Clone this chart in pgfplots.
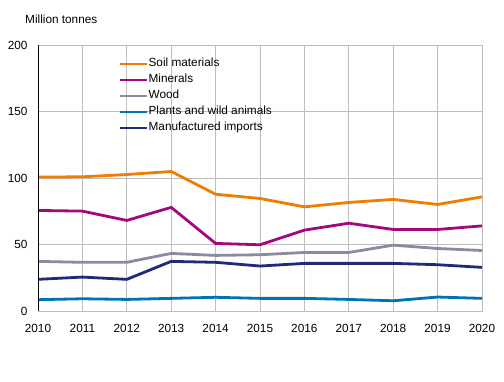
\documentclass[border=0pt]{standalone}
\usepackage{pgfplots}
\pgfplotsset{compat=1.18}
\usepackage{fontspec}
\setmainfont{Liberation Sans}
\definecolor{cSoil}{HTML}{F07D00}
\definecolor{cMin}{HTML}{A3087F}
\definecolor{cWood}{HTML}{8C8AA0}
\definecolor{cPlant}{HTML}{0073B0}
\definecolor{cMan}{HTML}{1F2A78}
\definecolor{cGrid}{HTML}{BEBEBE}
\begin{document}
\begin{tikzpicture}
\useasboundingbox (0,0) rectangle (504bp,382bp);
\begin{axis}[
  scale only axis,
  width=444bp, height=266bp,
  at={(38bp,71bp)}, anchor=south west,
  xmin=2010, xmax=2020, ymin=0, ymax=200,
  xtick={2010,...,2020}, ytick={0,50,100,150,200},
  xticklabel style={/pgf/number format/1000 sep={}},
  /pgf/number format/assume math mode=true,
  tick style={draw=none},
  grid=major,
  major grid style={draw=cGrid, line width=0.9bp},
  axis line style={draw=cGrid, line width=0.9bp},
  font=\fontsize{11.8bp}{14bp}\selectfont,
  yticklabel style={xshift=-7bp},
  xticklabel style={yshift=-10bp},
  legend style={at={(0.182,0.952)}, anchor=north west, draw=none, fill=none,
    font=\fontsize{11.8bp}{14bp}\selectfont, row sep=4bp, inner sep=0pt,
    nodes={text height=9bp, text depth=3bp, inner sep=0pt, outer sep=0pt}},
  legend cell align=left,
  legend image code/.code={\draw[#1, line width=2.6bp] (0bp,0bp) -- (27bp,0bp);},
  every axis plot/.append style={line width=2.8bp, mark=none},
  after end axis/.code={\draw[black, line width=0.9bp] (rel axis cs:0,0) -- (rel axis cs:0,1);},
]
\addplot[cSoil] coordinates {(2010,100.7)(2011,100.9)(2012,102.6)(2013,104.9)(2014,87.8)(2015,84.6)(2016,78.3)(2017,81.6)(2018,83.9)(2019,80.1)(2020,85.8)};
\addlegendentry{Soil materials}
\addplot[cMin] coordinates {(2010,75.6)(2011,75.1)(2012,68.1)(2013,77.9)(2014,50.8)(2015,49.8)(2016,60.8)(2017,66)(2018,61.3)(2019,61.3)(2020,64)};
\addlegendentry{Minerals}
\addplot[cWood] coordinates {(2010,37.3)(2011,36.6)(2012,36.6)(2013,43.3)(2014,41.8)(2015,42.3)(2016,44)(2017,44)(2018,49.5)(2019,47)(2020,45.5)};
\addlegendentry{Wood}
\addplot[cPlant] coordinates {(2010,8.5)(2011,9.2)(2012,8.7)(2013,9.5)(2014,10.3)(2015,9.5)(2016,9.5)(2017,8.7)(2018,7.7)(2019,10.5)(2020,9.5)};
\addlegendentry{Plants and wild animals}
\addplot[cMan] coordinates {(2010,23.8)(2011,25.5)(2012,23.8)(2013,37.3)(2014,36.6)(2015,33.8)(2016,35.8)(2017,35.8)(2018,35.8)(2019,34.8)(2020,32.8)};
\addlegendentry{Manufactured imports}
\end{axis}
\node[anchor=west, inner sep=0pt, font=\fontsize{11.8bp}{14bp}\selectfont] at (25bp,363bp) {Million tonnes};
\end{tikzpicture}
\end{document}
